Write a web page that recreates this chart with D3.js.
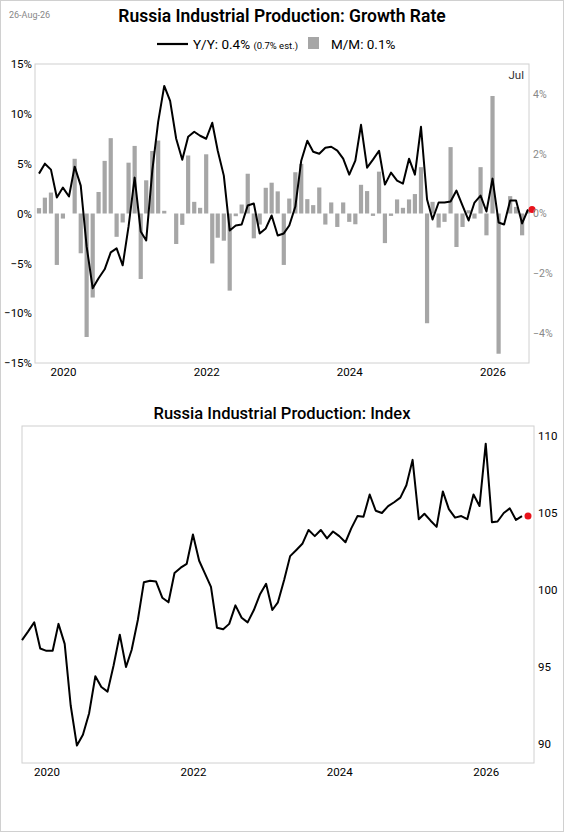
<!DOCTYPE html>
<html><head><meta charset="utf-8">
<script src="https://cdn.jsdelivr.net/npm/d3@7"></script>
<style>body{margin:0;background:#fff;font-family:Roboto,"Noto Sans",sans-serif}</style>
</head><body><div class="chart"></div>
<script>
// monthly data, Sep 2019 .. Jul 2026
let yoy = [4.0,5.0,4.4,1.6, 2.6,1.7,4.7,2.8,-3.3,-7.5,-6.5,-5.6,-3.9,-3.5,-5.2,-1.3,
  3.6,-1.8,-2.7,4.3,9.2,12.8,11.3,7.5,5.4,7.7,8.2,7.8,
  7.5,9.1,6.3,3.8,-1.7,-1.2,-1.1,0.8,1.0,-2.0,-1.5,-0.2,
  -2.2,-2.0,-1.2,0.7,5.3,7.3,6.2,6.0,6.6,6.7,6.3,5.5,
  3.9,5.3,8.9,4.6,5.4,6.3,2.9,4.1,3.3,3.0,5.5,3.9,
  8.7,1.4,-0.6,1.1,1.1,1.2,2.3,0.8,-0.7,1.1,1.8,0.2,
  3.5,-0.9,-1.1,1.3,1.3,-1.0,0.4];
let mom = [0.18,0.53,0.7,-1.72, -0.17,0,1.83,-1.33,-4.13,-2.81,0.72,1.76,2.52,-0.78,-0.3,1.7,
  2.26,-2.19,1.11,2.09,2.44,0.09,0,-1.02,-0.38,1.94,0.39,0.19,
  1.98,-1.67,-0.81,-0.91,-2.58,-0.09,0.3,1.33,-0.83,-0.37,0.86,1.03,
  0.74,-1.72,0.5,1.38,1.66,0.48,0.28,0.87,-0.37,0.37,-0.45,0.37,
  -0.28,-0.36,0.96,0.75,-0.08,1.4,-0.99,-0.08,0.47,0.19,0.47,0.65,
  1.55,-3.67,0.39,-0.47,-0.28,2.22,-1.12,-0.45,0.11,-0.17,1.55,-0.73,
  3.93,-4.69,0,0.58,0.22,-0.73,0.1];
let index = [96.75,97.3,97.9,96.2, 96.05,96.05,97.8,96.5,92.5,89.9,90.6,92.0,94.4,93.7,93.4,95.1,
  97.1,95.0,96.1,98.05,100.5,100.6,100.55,99.5,99.2,101.1,101.45,101.7,
  103.6,101.9,101.1,100.2,97.55,97.45,97.8,99.0,98.2,97.9,98.7,99.7,
  100.4,98.7,99.2,100.65,102.2,102.6,103.0,103.9,103.5,103.9,103.35,103.8,
  103.5,103.1,104.0,104.8,104.75,106.2,105.15,105.0,105.45,105.7,106.0,106.8,
  108.45,104.6,104.95,104.5,104.1,106.4,105.25,104.7,104.8,104.6,106.2,105.45,
  109.5,104.4,104.45,105.0,105.3,104.55,104.8];
let yearTicks = [2020, 2022, 2024, 2026];
let leftTicks = [-15,-10,-5,0,5,10,15];
let rightTicks = [-4,-2,0,2,4];
let indexTicks = [90,95,100,105,110];

let dates = yoy.map((d,i)=>new Date(2019, 8+i, 1));
let last = dates.length-1;

const svg = d3.select('.chart').append('svg')
  .attr("width", 564).attr("height", 832);
svg.append("rect").attr("x",0.5).attr("y",0.5).attr("width",563).attr("height",831)
  .attr("fill","none").attr("stroke","#d0d0d0");

svg.append("text").attr("x",9).attr("y",18).attr("font-size",9).attr("fill","#888").text("26-Aug-26");
svg.append("text").attr("x",282).attr("y",22).attr("text-anchor","middle")
  .attr("font-size",17.5).attr("font-weight",600).text("Russia Industrial Production: Growth Rate");

// legend
svg.append("line").attr("x1",157).attr("x2",188).attr("y1",44).attr("y2",44).attr("stroke","#000").attr("stroke-width",2.2);
let lt = svg.append("text").attr("x",193).attr("y",49).attr("font-size",13.5);
lt.append("tspan").text("Y/Y: 0.4% ");
lt.append("tspan").attr("font-size",9.5).text("(0.7% est.)");
let lend = 193 + lt.node().getComputedTextLength();
svg.append("rect").attr("x",lend+10).attr("y",37).attr("width",11).attr("height",12).attr("fill","#a6a6a6");
svg.append("text").attr("x",lend+33).attr("y",49).attr("font-size",13.5).text("M/M: 0.1%");

// top chart
let t = {left:35, right:529, top:64, bottom:363};
let x1 = d3.scaleTime().domain([dates[0], dates[last]]).range([39, 528]);
let yL = d3.scaleLinear().domain([-15,15]).range([t.bottom, t.top]);
let yR = d3.scaleLinear().domain([-5,5]).range([t.bottom, t.top]);

svg.append("rect").attr("x",t.left).attr("y",t.top).attr("width",t.right-t.left).attr("height",t.bottom-t.top)
  .attr("fill","none").attr("stroke","#d0d0d0");

svg.append("g").selectAll("rect").data(mom).join("rect")
  .attr("x",(d,i)=>x1(dates[i])-2.1).attr("width",4.2)
  .attr("y",d=>yR(Math.max(0,d))).attr("height",d=>Math.abs(yR(d)-yR(0)))
  .attr("fill","#a6a6a6");

svg.append("path").datum(yoy)
  .attr("d", d3.line().x((d,i)=>x1(dates[i])).y(d=>yL(d)))
  .attr("fill","none").attr("stroke","#000").attr("stroke-width",2).attr("stroke-linejoin","round");
svg.append("circle").attr("cx",x1(dates[last])+4).attr("cy",yL(yoy[last])).attr("r",3.5).attr("fill","#e8131b");

let axL = svg.append("g").attr("transform",`translate(${t.left},0)`)
  .call(d3.axisLeft(yL).tickValues(leftTicks).tickSize(0).tickPadding(3).tickFormat(d=>(d<0?"\u2212"+(-d):d)+"%"));
let axR = svg.append("g").attr("transform",`translate(${t.right},0)`)
  .call(d3.axisRight(yR).tickValues(rightTicks).tickSize(0).tickPadding(4).tickFormat(d=>(d<0?"\u2212"+(-d):d)+"%"));
let axX1 = svg.append("g").attr("transform",`translate(0,${t.bottom})`)
  .call(d3.axisBottom(x1).tickValues(yearTicks.map(y=>new Date(y,0,1))).tickSize(0).tickPadding(5).tickFormat(d3.timeFormat("%Y")));
[axL,axR,axX1].forEach(a=>{a.select(".domain").remove();a.selectAll("text").attr("font-size",11.5).attr("font-family","Roboto");});
axR.selectAll("text").attr("font-size",10.5).attr("fill","#888");
svg.append("text").attr("x",524).attr("y",79).attr("text-anchor","end").attr("font-size",11.5).attr("fill","#333").text("Jul");

// bottom chart
svg.append("text").attr("x",282).attr("y",419).attr("text-anchor","middle")
  .attr("font-size",16.5).attr("font-weight",500).text("Russia Industrial Production: Index");
let b = {left:22, right:534, top:426, bottom:763};
let x2 = d3.scaleTime().domain([dates[0], dates[last]]).range([22, 522]);
let y2 = d3.scaleLinear().domain([90,110]).range([744, 436]);
svg.append("rect").attr("x",b.left).attr("y",b.top).attr("width",b.right-b.left).attr("height",b.bottom-b.top)
  .attr("fill","none").attr("stroke","#d0d0d0");
svg.append("path").datum(index)
  .attr("d", d3.line().x((d,i)=>x2(dates[i])).y(d=>y2(d)))
  .attr("fill","none").attr("stroke","#000").attr("stroke-width",2).attr("stroke-linejoin","round");
svg.append("circle").attr("cx",x2(dates[last])+6).attr("cy",y2(index[last])).attr("r",3.5).attr("fill","#e8131b");
let axR2 = svg.append("g").attr("transform",`translate(${b.right},0)`)
  .call(d3.axisRight(y2).tickValues(indexTicks).tickSize(0).tickPadding(4));
let axX2 = svg.append("g").attr("transform",`translate(0,${b.bottom})`)
  .call(d3.axisBottom(x2).tickValues(yearTicks.map(y=>new Date(y,0,1))).tickSize(0).tickPadding(5).tickFormat(d3.timeFormat("%Y")));
[axR2,axX2].forEach(a=>{a.select(".domain").remove();a.selectAll("text").attr("font-size",11.5).attr("font-family","Roboto");});
</script></body></html>
